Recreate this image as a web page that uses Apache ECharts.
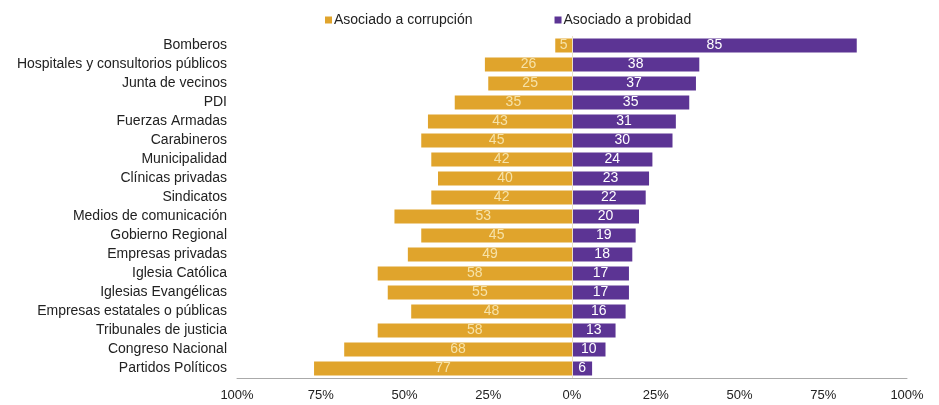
<!DOCTYPE html>
<html><head><meta charset="utf-8">
<script src="https://cdn.jsdelivr.net/npm/echarts@6/dist/echarts.min.js"></script>
<style>html,body{margin:0;padding:0;background:#fff}#c{width:939px;height:405px}</style>
</head><body><div id="c"></div>
<script>
const categories = ["Bomberos","Hospitales y consultorios públicos","Junta de vecinos","PDI","Fuerzas Armadas","Carabineros","Municipalidad","Clínicas privadas","Sindicatos","Medios de comunicación","Gobierno Regional","Empresas privadas","Iglesia Católica","Iglesias Evangélicas","Empresas estatales o públicas","Tribunales de justicia","Congreso Nacional","Partidos Políticos"];
const corrupcion = [5,26,25,35,43,45,42,40,42,53,45,49,58,55,48,58,68,77];
const probidad = [85,38,37,35,31,30,24,23,22,20,19,18,17,17,16,13,10,6];
const seriesNames = ["Asociado a corrupción","Asociado a probidad"];

const chart = echarts.init(document.getElementById('c'));
const font = 'Liberation Sans, Arial, sans-serif';
chart.setOption({
  animation: false,
  textStyle: {fontFamily: font},
  legend: {
    left: 320, top: 8, itemWidth: 7, itemHeight: 7, itemGap: 82,
    icon: 'rect',
    textStyle: {fontSize: 14, color: '#222', fontFamily: font, padding: [0,0,0,-3]},
    data: seriesNames
  },
  grid: {left: 237, right: 32, top: 36, bottom: 27, containLabel: false},
  xAxis: {
    type: 'value', min: -100, max: 100, interval: 25,
    axisLine: {show: true, lineStyle: {color: '#aaa'}},
    axisTick: {show: false},
    splitLine: {show: false},
    axisLabel: {formatter: v => Math.abs(v) + '%', fontSize: 13, color: '#222', margin: 11, fontFamily: font}
  },
  yAxis: {
    type: 'category', data: categories, inverse: true,
    axisLine: {show: false}, axisTick: {show: false},
    axisLabel: {fontSize: 14, color: '#222', margin: 10, fontFamily: font}
  },
  series: [
    {
      name: seriesNames[0], type: 'bar', stack: 'a', barWidth: 14,
      data: corrupcion.map(v => -v),
      itemStyle: {color: '#E0A42C'},
      label: {show: true, position: 'inside', formatter: p => Math.abs(p.value), color: '#F6E2A8', fontSize: 14, fontFamily: font},
      markLine: {silent: true, symbol: 'none', label: {show: false}, lineStyle: {color: '#e8e0c8', type: 'solid', width: 1}, data: [{xAxis: 0}]}
    },
    {
      name: seriesNames[1], type: 'bar', stack: 'a', barWidth: 14,
      data: probidad,
      itemStyle: {color: '#5C3494'},
      label: {show: true, position: 'inside', color: '#fff', fontSize: 14, fontFamily: font}
    }
  ]
});
</script></body></html>
